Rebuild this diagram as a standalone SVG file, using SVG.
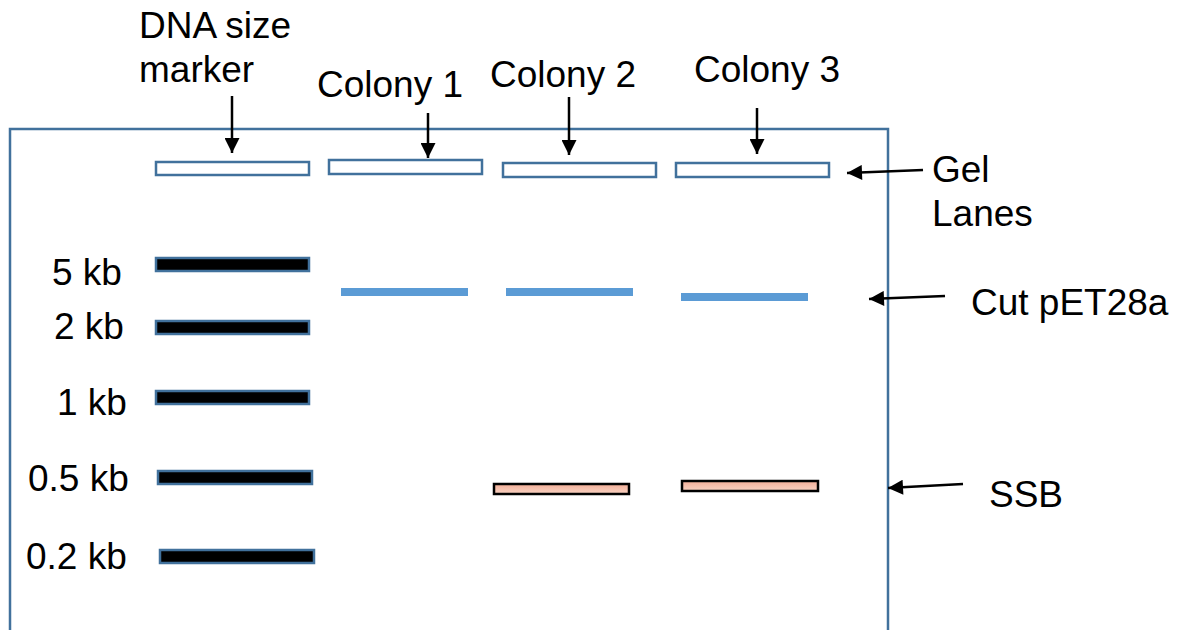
<svg xmlns="http://www.w3.org/2000/svg" width="1181" height="630" viewBox="0 0 1181 630">
  <defs>
    <marker id="arrow" viewBox="0 0 10 10" refX="10" refY="5" markerWidth="6.5" markerHeight="6" markerUnits="strokeWidth" orient="auto">
      <path d="M0,0 L10,5 L0,10 z" fill="#000"/>
    </marker>
    <linearGradient id="ssbFill" x1="0" y1="0" x2="0" y2="1">
      <stop offset="0" stop-color="#F2AE98"/>
      <stop offset="1" stop-color="#F9D2C2"/>
    </linearGradient>
  </defs>
  <style>
    text { font-family: "Liberation Sans", Arial, sans-serif; font-size: 37px; fill: #000; }
    .frame { fill: none; stroke: #41719C; stroke-width: 2.5; }
    .well { fill: #fff; stroke: #41719C; stroke-width: 2.5; }
    .marker-band { fill: #000; stroke: #41719C; stroke-width: 2.5; }
    .vector-band { fill: #5B9BD5; }
    .ssb-band { fill: url(#ssbFill); stroke: #000; stroke-width: 2.5; }
    .pointer { stroke: #000; stroke-width: 2.5; fill: none; marker-end: url(#arrow); }
  </style>

  <rect width="1181" height="630" fill="#fff"/>

  <!-- gel outline (runs off the bottom edge) -->
  <path id="gel" class="frame" d="M10,645 V129 H888 V645"/>

  <!-- loading wells -->
  <g id="well-marker"><rect class="well" x="156" y="162" width="153" height="13"/></g>
  <g id="well-colony1"><rect class="well" x="329" y="160" width="153" height="14"/></g>
  <g id="well-colony2"><rect class="well" x="503" y="163" width="153" height="14"/></g>
  <g id="well-colony3"><rect class="well" x="676" y="163" width="153" height="14"/></g>

  <!-- size ladder -->
  <g id="ladder">
    <rect class="marker-band" x="156" y="258" width="153" height="13"/>
    <rect class="marker-band" x="156" y="321" width="153" height="13"/>
    <rect class="marker-band" x="156" y="391" width="153" height="13"/>
    <rect class="marker-band" x="158" y="471" width="154" height="13"/>
    <rect class="marker-band" x="160" y="550" width="154" height="13"/>
  </g>

  <!-- cut vector bands -->
  <g id="vector-bands">
    <rect class="vector-band" x="341" y="288" width="127" height="8"/>
    <rect class="vector-band" x="506" y="288" width="127" height="8"/>
    <rect class="vector-band" x="681" y="293" width="127" height="8"/>
  </g>

  <!-- insert bands -->
  <g id="ssb-bands">
    <rect class="ssb-band" x="494" y="484" width="135" height="10"/>
    <rect class="ssb-band" x="682" y="481" width="136" height="10"/>
  </g>

  <!-- labels -->
  <g id="label-marker">
    <text x="139" y="38">DNA size</text>
    <text x="139" y="82">marker</text>
  </g>
  <g id="label-colony1"><text x="317" y="97">Colony 1</text></g>
  <g id="label-colony2"><text x="490" y="87">Colony 2</text></g>
  <g id="label-colony3"><text x="694" y="82">Colony 3</text></g>
  <g id="label-gel">
    <text x="932" y="182">Gel</text>
    <text x="932" y="226">Lanes</text>
  </g>
  <g id="label-cut"><text x="971" y="315">Cut pET28a</text></g>
  <g id="label-ssb"><text x="989" y="507">SSB</text></g>
  <g id="label-sizes">
    <text x="52" y="285">5 kb</text>
    <text x="54" y="339">2 kb</text>
    <text x="57" y="415">1 kb</text>
    <text x="28" y="491">0.5 kb</text>
    <text x="26" y="569">0.2 kb</text>
  </g>

  <!-- pointer arrows -->
  <g id="connectors">
    <line class="pointer" x1="232" y1="96" x2="232" y2="153"/>
    <line class="pointer" x1="428" y1="113" x2="428" y2="158"/>
    <line class="pointer" x1="569" y1="97" x2="569" y2="155"/>
    <line class="pointer" x1="757" y1="108" x2="757" y2="154"/>
    <line class="pointer" x1="923" y1="170" x2="847" y2="173"/>
    <line class="pointer" x1="945" y1="296" x2="869" y2="299"/>
    <line class="pointer" x1="963" y1="484" x2="888" y2="488"/>
  </g>
</svg>
